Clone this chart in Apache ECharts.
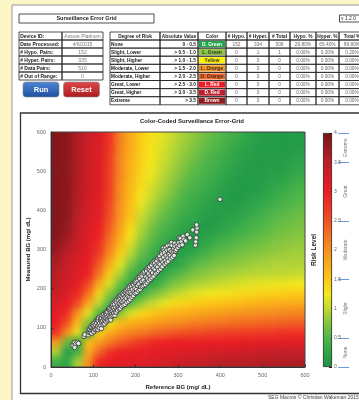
<!DOCTYPE html>
<html>
<head>
<meta charset="utf-8">
<script src="https://cdn.jsdelivr.net/npm/echarts@6/dist/echarts.min.js"></script>
<style>
  html, body { margin: 0; padding: 0; background: #fdf6c6; }
  #wrap { position: relative; width: 359px; height: 400px; overflow: hidden; }
  #base, #top { position: absolute; left: 0; top: 0; width: 359px; height: 400px; }
  #heatClip { position: absolute; left: 51px; top: 132px; width: 254px; height: 235px; overflow: hidden; }
  #heat { position: absolute; left: -14px; top: -14px; width: 282px; height: 263px; filter: blur(3.5px); }
</style>
</head>
<body>
<div id="wrap">
  <div id="base"></div>
  <div id="heatClip"><div id="heat"></div></div>
  <div id="top"></div>
</div>
<script>
// risk grid, cell centres in mg/dL
var refCenters = [12.5, 37.5, 62.5, 87.5, 112.5, 137.5, 162.5, 187.5, 212.5, 237.5, 262.5, 287.5,
                  312.5, 337.5, 362.5, 387.5, 412.5, 437.5, 462.5, 487.5, 512.5, 537.5, 562.5, 587.5];
var measCenters = [587.5, 562.5, 537.5, 512.5, 487.5, 462.5, 437.5, 412.5, 387.5, 362.5, 337.5, 312.5,
                   287.5, 262.5, 237.5, 212.5, 187.5, 162.5, 137.5, 112.5, 87.5, 62.5, 37.5, 12.5];
// one row per measCenters entry, one column per refCenters entry
var riskRows = [
  [3.9,3.85,3.6,3.35,3.22,2.79,2.14,1.75,1.46,1.31,1.16,1.01,0.89,0.78,0.67,0.56,0.45,0.36,0.26,0.16,0.12,0.1,0.1,0.1],
  [3.9,3.85,3.6,3.34,3.21,2.76,2.11,1.74,1.46,1.29,1.12,0.97,0.85,0.72,0.6,0.5,0.4,0.3,0.2,0.13,0.1,0.1,0.1,0.12],
  [3.9,3.85,3.6,3.33,3.2,2.72,2.08,1.73,1.45,1.27,1.09,0.93,0.8,0.67,0.54,0.43,0.34,0.24,0.15,0.1,0.1,0.1,0.13,0.17],
  [3.9,3.85,3.6,3.33,3.2,2.71,2.07,1.7,1.42,1.23,1.04,0.88,0.74,0.59,0.48,0.38,0.28,0.19,0.12,0.1,0.1,0.12,0.18,0.24],
  [3.9,3.85,3.6,3.32,3.2,2.7,2.06,1.68,1.4,1.19,0.98,0.83,0.67,0.51,0.42,0.33,0.23,0.14,0.1,0.1,0.14,0.18,0.25,0.33],
  [3.9,3.85,3.58,3.31,3.17,2.68,2.03,1.65,1.35,1.11,0.91,0.75,0.58,0.45,0.36,0.27,0.18,0.11,0.1,0.13,0.2,0.27,0.34,0.42],
  [3.9,3.85,3.57,3.3,3.15,2.65,2.01,1.62,1.3,1.03,0.84,0.66,0.49,0.39,0.3,0.2,0.12,0.1,0.14,0.18,0.26,0.35,0.43,0.5],
  [3.9,3.85,3.55,3.28,3.12,2.6,1.98,1.58,1.18,0.93,0.74,0.56,0.42,0.32,0.22,0.14,0.1,0.12,0.2,0.27,0.35,0.44,0.5,0.57],
  [3.9,3.85,3.52,3.25,3.1,2.56,1.96,1.54,1.05,0.83,0.63,0.47,0.36,0.25,0.15,0.1,0.14,0.18,0.27,0.36,0.45,0.54,0.58,0.63],
  [3.9,3.8,3.47,3.2,3.02,2.45,1.87,1.41,0.96,0.72,0.52,0.38,0.26,0.17,0.1,0.13,0.22,0.3,0.38,0.45,0.53,0.61,0.65,0.69],
  [3.9,3.75,3.42,3.15,2.95,2.35,1.78,1.28,0.88,0.62,0.42,0.3,0.16,0.1,0.17,0.23,0.33,0.42,0.49,0.55,0.62,0.69,0.72,0.76],
  [3.8,3.62,3.36,3.13,2.83,2.2,1.62,1.12,0.74,0.5,0.3,0.18,0.1,0.13,0.26,0.39,0.47,0.55,0.6,0.66,0.71,0.76,0.79,0.82],
  [3.7,3.48,3.3,3.1,2.7,2.06,1.45,0.96,0.6,0.38,0.2,0.1,0.2,0.3,0.42,0.55,0.61,0.67,0.71,0.76,0.8,0.84,0.86,0.88],
  [3.62,3.42,3.23,3.02,2.48,1.75,1.18,0.72,0.41,0.24,0.1,0.15,0.33,0.52,0.61,0.7,0.75,0.8,0.83,0.87,0.9,0.92,0.93,0.94],
  [3.55,3.35,3.17,2.95,2.25,1.45,0.92,0.48,0.22,0.1,0.27,0.44,0.58,0.71,0.78,0.85,0.88,0.92,0.95,0.97,0.98,0.99,1.0,1.02],
  [3.45,3.28,3.1,2.62,1.79,1.13,0.62,0.29,0.1,0.22,0.46,0.7,0.8,0.9,0.95,1.0,1.05,1.1,1.14,1.17,1.19,1.2,1.22,1.25],
  [3.35,3.2,2.9,2.27,1.39,0.78,0.36,0.1,0.35,0.64,0.8,0.97,1.06,1.16,1.22,1.27,1.3,1.34,1.37,1.4,1.42,1.43,1.45,1.48],
  [3.25,3.05,2.6,1.78,0.99,0.45,0.1,0.49,0.81,1.0,1.17,1.34,1.4,1.47,1.51,1.55,1.58,1.62,1.66,1.7,1.72,1.74,1.76,1.78],
  [3.1,2.83,1.98,1.19,0.5,0.12,0.75,1.13,1.36,1.51,1.6,1.69,1.73,1.78,1.82,1.86,1.9,1.94,1.98,2.01,2.03,2.06,2.08,2.1],
  [3.0,2.51,1.62,0.74,0.1,1.24,1.58,1.7,1.79,1.87,1.94,2.0,2.06,2.13,2.18,2.23,2.26,2.29,2.31,2.33,2.35,2.38,2.4,2.42],
  [2.8,2.02,1.19,0.2,1.4,1.76,1.96,2.1,2.2,2.3,2.38,2.46,2.51,2.56,2.59,2.62,2.65,2.67,2.69,2.71,2.73,2.76,2.78,2.79],
  [1.9,0.6,0.1,1.55,1.9,2.2,2.4,2.6,2.76,2.9,2.95,3.0,3.01,3.02,3.02,3.03,3.05,3.06,3.08,3.09,3.1,3.12,3.12,3.13],
  [0.9,0.12,0.4,1.75,2.35,2.77,3.0,3.05,3.05,3.1,3.12,3.15,3.18,3.22,3.25,3.28,3.3,3.33,3.35,3.37,3.4,3.42,3.43,3.44],
  [0.35,0.25,0.9,1.97,2.95,3.05,3.07,3.15,3.15,3.2,3.25,3.3,3.35,3.4,3.45,3.5,3.52,3.53,3.55,3.57,3.58,3.6,3.61,3.62]
];

// BG pairs [reference, measured]
var bgPairs = [
  [52,55],[55,62],[58,58],[62,63],[65,60],[56,50],[78,78],[80,83],
  [88,82],[90,88],[90,96],[92,95],[93,88],[94,102],[95,92],[96,86],[97,100],[98,108],[99,92],[100,97],
  [100,105],[101,90],[102,112],[103,100],[104,95],[105,108],[106,96],[107,118],[108,112],[109,98],
  [110,104],[110,120],[111,95],[112,118],[112,125],[113,108],[114,100],[115,112],[116,128],[117,120],
  [118,106],[118,124],[119,98],[120,115],[120,125],[121,132],[122,118],[123,108],[124,128],[125,112],
  [125,135],[126,122],[127,110],[128,130],[128,118],[129,138],[130,125],[130,115],[131,135],[132,142],
  [133,128],[134,140],[134,118],[135,122],[136,148],[137,133],[138,145],[138,125],[139,150],[140,138],
  [140,128],[141,120],[142,148],[143,135],[143,155],[144,130],[145,142],[146,155],[146,160],[147,132],
  [148,150],[148,138],[149,165],[150,145],[150,160],[151,132],[152,140],[152,168],[153,152],[154,140],
  [155,165],[156,148],[156,172],[157,145],[158,158],[159,178],[160,170],[160,152],[161,148],[162,162],
  [162,180],[163,175],[164,150],[165,158],[165,182],[166,168],[167,155],[168,180],[169,188],[170,165],
  [170,175],[171,158],[172,185],[173,192],[174,170],[175,178],[175,160],[176,190],[177,195],[178,175],
  [179,165],[180,185],[180,195],[181,200],[182,180],[183,168],[184,190],[185,200],[185,205],[186,178],
  [187,172],[188,192],[189,210],[190,205],[190,185],[191,178],[192,198],[193,212],[195,210],[195,182],
  [196,192],[197,216],[198,202],[199,188],[200,215],[201,220],[202,198],[203,190],[204,208],[205,222],
  [206,228],[207,195],[208,212],[209,230],[210,225],[211,198],[212,205],[213,236],[214,218],[215,232],
  [216,205],[217,240],[218,222],[219,208],[220,240],[221,244],[222,215],[223,210],[224,230],[225,248],
  [226,245],[227,215],[228,225],[229,252],[230,238],[231,220],[232,250],[233,256],[234,232],[235,224],
  [236,245],[237,262],[238,260],[239,228],[240,240],[241,266],[242,252],[243,232],[244,270],[245,265],
  [246,248],[247,238],[248,258],[249,274],[250,270],[251,242],[252,255],[253,278],[254,246],[255,265],
  [256,280],[257,284],[258,262],[259,250],[260,275],[261,292],[262,288],[263,256],[264,268],[265,304],
  [266,280],[267,298],[268,292],[269,262],[270,272],[271,305],[272,285],[273,266],[274,298],[275,310],
  [276,278],[277,270],[278,290],[279,288],[280,300],[281,312],[282,284],[283,276],[284,295],[285,318],
  [286,310],[287,280],[288,290],[289,296],[290,302],[291,285],[292,316],[293,308],[294,296],[296,300],
  [298,312],[300,305],[302,318],[303,330],[304,310],[306,328],[308,320],[310,312],[312,334],[314,326],
  [318,322],[322,338],[328,330],[335,350],[341,311],[342,320],[343,330],[344,345],[345,355],[344,363],
  [399,428]
];

var riskColors = ['#1b9447','#2fa548','#4fb648','#84c540','#c2d931','#f4e81c','#fcc815','#f9ab1a','#f6901e',
                  '#f37321','#f05224','#ee3424','#ec1c24','#d51d25','#bd1e26','#9a1a1f','#741318'];
var bandEdges = [0, 0.5, 1.5, 2.5, 3.5, 4];
var bandMids = [0.25, 1, 2, 3, 3.75];
var bandNames = ['None', 'Slight', 'Moderate', 'Great', 'Extreme'];

// summary tables
var infoLabels = ['Device ID:', 'Date Processed:', '# Hypo. Pairs:', '# Hyper. Pairs:', '# Data Pairs:', '# Out of Range:'];
var infoValues = ['Assure Platinum', '4/6/2015', '152', '335', '510', '0'];
var tableHeaders = ['Degree of Risk', 'Absolute Value', 'Color', '# Hypo.', '# Hyper.', '# Total', 'Hypo. %', 'Hyper. %', 'Total %'];
var riskNames = ['None', 'Slight, Lower', 'Slight, Higher', 'Moderate, Lower', 'Moderate, Higher', 'Great, Lower', 'Great, Higher', 'Extreme'];
var absValues = ['0 - 0.5', '> 0.5 - 1.0', '> 1.0 - 1.5', '> 1.5 - 2.0', '> 2.0 - 2.5', '> 2.5 - 3.0', '> 3.0 - 3.5', '> 3.5'];
var colorNames = ['D. Green', 'L. Green', 'Yellow', 'L. Orange', 'D. Orange', 'L. Red', 'D. Red', 'Brown'];
var colorFills = ['#1fa64b', '#8cc63f', '#fff200', '#f7941d', '#f26522', '#ed1c24', '#be1e2d', '#8e1b1e'];
var colorText = ['#fff', '#333', '#333', '#333', '#333', '#fff', '#fff', '#fff'];
var hypoCounts = [152, 0, 0, 0, 0, 0, 0, 0];
var hyperCounts = [334, 1, 0, 0, 0, 0, 0, 0];
var totalCounts = [509, 1, 0, 0, 0, 0, 0, 0];
var hypoPct = ['29.80%', '0.00%', '0.00%', '0.00%', '0.00%', '0.00%', '0.00%', '0.00%'];
var hyperPct = ['65.40%', '0.20%', '0.00%', '0.00%', '0.00%', '0.00%', '0.00%', '0.00%'];
var totalPct = ['99.80%', '0.20%', '0.00%', '0.00%', '0.00%', '0.00%', '0.00%', '0.00%'];

var FONT = '"Liberation Sans", Arial, sans-serif';

var heatData = [];
measCenters.forEach(function (m, i) {
    refCenters.forEach(function (r, j) {
        heatData.push([r, m, riskRows[i][j]]);
    });
});
var half = (refCenters[1] - refCenters[0]) / 2;
var lo = refCenters[0], hi = refCenters[refCenters.length - 1];

function txt(x, y, s, font, fill, align) {
    return { type: 'text', style: { x: x, y: y, text: s, font: font, fill: fill || '#222',
        align: align || 'center', verticalAlign: 'middle' } };
}
function box(x, y, w, h, fill, stroke, lw) {
    return { type: 'rect', shape: { x: x, y: y, width: w, height: h },
        style: { fill: fill || 'none', stroke: stroke || '#222', lineWidth: lw || 0.8 } };
}

var els = [];
els.push({ type: 'rect', shape: { x: 12, y: 5, width: 360, height: 400 }, style: { fill: '#fff', stroke: '#9a9a9a', lineWidth: 1 } });
els.push(box(20.5, 113, 350, 280.5, 'none', '#333', 1.3));
els.push(txt(192, 121, 'Color-Coded Surveillance Error-Grid', 'bold 6px ' + FONT));
els.push(txt(268, 397.5, 'SEG Macros \u00a9 Christian Wakeman 2015', '5px ' + FONT, '#444', 'left'));

els.push(box(19, 14, 135, 9));
els.push(txt(86.5, 18.7, 'Surveillance Error Grid', 'bold 5.5px ' + FONT));
els.push(box(339.5, 15, 25, 7));
els.push(txt(341, 18.6, 'v 1.2.0', '5px ' + FONT, '#333', 'left'));

var lx = 19, ly = 32, lw0 = 43, lw1 = 41, lh = 8;
infoLabels.forEach(function (lab, i) {
    var y = ly + i * lh;
    els.push(box(lx, y, lw0, lh));
    els.push(box(lx + lw0, y, lw1, lh));
    els.push(txt(lx + 1.2, y + lh / 2 + 0.3, lab, 'bold 5px ' + FONT, '#222', 'left'));
    els.push(txt(lx + lw0 + lw1 / 2, y + lh / 2 + 0.3, infoValues[i], '5px ' + FONT, '#777'));
});

function button(x, label, c0, c1) {
    els.push({ type: 'rect', shape: { x: x, y: 82, width: 36, height: 15, r: 3 },
        style: { fill: new echarts.graphic.LinearGradient(0, 0, 0, 1, [{ offset: 0, color: c0 }, { offset: 1, color: c1 }]),
            stroke: '#888', lineWidth: 0.6 } });
    els.push(txt(x + 18, 89.8, label, 'bold 7.5px ' + FONT, '#fff'));
}
button(23, 'Run', '#4f86d6', '#1f4f9f');
button(63.5, 'Reset', '#e0484a', '#a91c20');

var colW = [50, 38, 28, 21, 22, 21, 26, 23, 26];
var tx = 110, ty = 32, hh = 8, rh = 8.1;
var cx = [tx];
colW.forEach(function (w, k) { cx.push(cx[k] + w); });
tableHeaders.forEach(function (h, k) {
    els.push(box(cx[k], ty, colW[k], hh));
    els.push(txt(cx[k] + colW[k] / 2, ty + hh / 2 + 0.3, h, 'bold 4.8px ' + FONT));
});
riskNames.forEach(function (name, i) {
    var y = ty + hh + i * rh;
    var cells = [name, absValues[i], colorNames[i], hypoCounts[i], hyperCounts[i], totalCounts[i], hypoPct[i], hyperPct[i], totalPct[i]];
    cells.forEach(function (c, k) {
        els.push(box(cx[k], y, colW[k], rh));
        if (k === 2) {
            els.push({ type: 'rect', shape: { x: cx[k] + 1, y: y + 1, width: colW[k] - 2, height: rh - 2 },
                style: { fill: colorFills[i] } });
            els.push(txt(cx[k] + colW[k] / 2, y + rh / 2 + 0.3, c, 'bold 4.8px ' + FONT, colorText[i]));
        } else if (k === 0) {
            els.push(txt(cx[k] + 1, y + rh / 2 + 0.3, c, 'bold 4.8px ' + FONT, '#222', 'left'));
        } else if (k === 1) {
            els.push(txt(cx[k] + colW[k] - 2, y + rh / 2 + 0.3, c, 'bold 4.8px ' + FONT, '#222', 'right'));
        } else {
            els.push(txt(cx[k] + colW[k] / 2, y + rh / 2 + 0.3, String(c), '4.8px ' + FONT, '#666'));
        }
    });
});

// page, panel and tables
var base = echarts.init(document.getElementById('base'), null, { renderer: 'canvas' });
base.setOption({ backgroundColor: '#fdf6c6', animation: false, graphic: els });

// risk surface, softened by the blur on its container
var heat = echarts.init(document.getElementById('heat'), null, { renderer: 'canvas' });
var pad = 14;
heat.setOption({
    animation: false,
    grid: { left: pad, top: pad, width: 254, height: 235 },
    xAxis: { type: 'value', min: 0, max: 600, show: false },
    yAxis: { type: 'value', min: 0, max: 600, show: false },
    visualMap: { show: false, type: 'continuous', min: 0, max: 4, dimension: 2, seriesIndex: 0,
                 inRange: { color: riskColors } },
    series: [{
        type: 'custom', data: heatData, encode: { x: 0, y: 1 }, clip: false, silent: true,
        renderItem: function (params, api) {
            var x = api.value(0), y = api.value(1);
            var p0 = api.coord([x - half, y + half]);
            var p1 = api.coord([x + half, y - half]);
            // edge cells reach under the clipped border so the blur keeps full colour
            if (x === lo) p0[0] -= pad;
            if (x === hi) p1[0] += pad;
            if (y === hi) p0[1] -= pad;
            if (y === lo) p1[1] += pad;
            return { type: 'rect',
                shape: { x: p0[0], y: p0[1], width: p1[0] - p0[0] + 0.5, height: p1[1] - p0[1] + 0.5 },
                style: { fill: api.visual('color') } };
        }
    }]
});

var gradStops = riskColors.map(function (c, i) { return { offset: i / (riskColors.length - 1), color: c }; });

// axes, points and colour bar
var chart = echarts.init(document.getElementById('top'), null, { renderer: 'canvas' });
chart.setOption({
    backgroundColor: 'transparent',
    animation: false,
    textStyle: { fontFamily: FONT },
    grid: [
        { left: 51, top: 132, width: 254, height: 235, show: true, borderColor: '#444', borderWidth: 1, backgroundColor: 'transparent' },
        { left: 323, top: 133, width: 9, height: 234 }
    ],
    xAxis: [
        { type: 'value', min: 0, max: 600, interval: 100, gridIndex: 0,
          name: 'Reference BG (mg/ dL)', nameLocation: 'middle', nameGap: 17, nameMoveOverlap: false,
          nameTextStyle: { fontSize: 6, fontWeight: 'bold', color: '#222' },
          axisLine: { lineStyle: { color: '#333' } },
          axisTick: { inside: true, length: 2.5, lineStyle: { color: '#333' } },
          axisLabel: { fontSize: 5.5, color: '#666', margin: 5 }, splitLine: { show: false } },
        { type: 'category', gridIndex: 1, data: ['risk'], show: false }
    ],
    yAxis: [
        { type: 'value', min: 0, max: 600, interval: 100, gridIndex: 0,
          name: 'Measured BG (mg/ dL)', nameLocation: 'middle', nameGap: 20, nameMoveOverlap: false,
          nameTextStyle: { fontSize: 6, fontWeight: 'bold', color: '#222' },
          axisLine: { show: true, lineStyle: { color: '#333' } },
          axisTick: { show: true, inside: true, length: 2.5, lineStyle: { color: '#333' } },
          axisLabel: { fontSize: 5.5, color: '#666', margin: 5 }, splitLine: { show: false } },
        { type: 'value', min: 0, max: 4, interval: 0.5, gridIndex: 1, position: 'right',
          axisLine: { show: false },
          axisTick: { show: true, inside: true, length: 3, lineStyle: { color: '#222' } },
          axisLabel: { fontSize: 5, color: '#666', margin: 2 }, splitLine: { show: false } },
        { type: 'value', min: 0, max: 4, gridIndex: 1, position: 'right', offset: 6,
          axisLine: { show: false },
          axisTick: { show: true, customValues: bandEdges, length: 11, lineStyle: { color: '#6a9bd8', width: 1 } },
          axisLabel: { customValues: bandMids, rotate: 90, fontSize: 5, color: '#777', margin: 5,
                       formatter: function (v) { return bandNames[bandMids.indexOf(v)]; } },
          splitLine: { show: false } },
        { type: 'value', min: 0, max: 4, gridIndex: 1, position: 'left',
          axisLine: { show: false }, axisTick: { show: false }, axisLabel: { show: false }, splitLine: { show: false },
          name: 'Risk Level', nameLocation: 'middle', nameGap: 5, nameMoveOverlap: false,
          nameTextStyle: { fontSize: 6.5, fontWeight: 'bold', color: '#222' } }
    ],
    series: [
        {
            type: 'scatter', xAxisIndex: 0, yAxisIndex: 0, data: bgPairs,
            symbol: 'circle', symbolSize: 4.5,
            itemStyle: { color: '#fff', borderColor: '#333', borderWidth: 1 }, z: 5
        },
        {
            type: 'bar', xAxisIndex: 1, yAxisIndex: 1, data: [4], barWidth: '100%',
            itemStyle: { color: new echarts.graphic.LinearGradient(0, 1, 0, 0, gradStops), borderColor: '#222', borderWidth: 0.8 },
            silent: true
        }
    ]
});
</script>
</body>
</html>
